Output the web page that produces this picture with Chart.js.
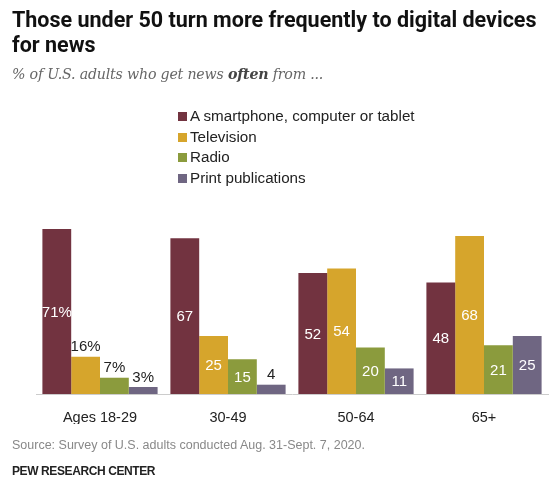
<!DOCTYPE html>
<html>
<head>
<meta charset="utf-8">
<script src="https://cdn.jsdelivr.net/npm/chart.js@4"></script>
<style>
  body { margin: 0; background: #fff; width: 556px; height: 495px; position: relative; overflow: hidden; font-family: "Liberation Sans", Arial, sans-serif; }
  #c { position: absolute; left: 0; top: 0; }
  .title { position: absolute; left: 12px; top: 7px; font-family: "Roboto", "Liberation Sans", sans-serif; font-weight: 700; font-size: 21.5px; line-height: 25px; color: #111; width: 550px; white-space: nowrap; }
  .sub { position: absolute; left: 12px; top: 66px; font-family: "DejaVu Serif", serif; font-style: italic; font-size: 14.2px; color: #666; letter-spacing: -0.2px; }
  .sub b { color: #444; }
  .legend { position: absolute; left: 178px; top: 106px; font-size: 15.2px; color: #222; }
  .legend div { height: 20.5px; line-height: 20px; }
  .legend span { display: inline-block; width: 9px; height: 9px; margin-right: 3px; }
  .src { position: absolute; left: 12px; top: 438px; font-size: 12.5px; color: #888; }
  .pew { position: absolute; left: 12px; top: 464px; font-size: 12px; font-weight: 700; color: #222; letter-spacing: -0.4px; }
</style>
</head>
<body>
<canvas id="c" width="556" height="495"></canvas>
<div class="title">Those under 50 turn more frequently to digital devices<br>for news</div>
<div class="sub">% of U.S. adults who get news <b>often</b> from ...</div>
<div class="legend" id="legend"></div>
<div class="src">Source: Survey of U.S. adults conducted Aug. 31-Sept. 7, 2020.</div>
<div class="pew">PEW RESEARCH CENTER</div>
<script>
// data
const ageGroups = ["Ages 18-29", "30-49", "50-64", "65+"];
const seriesNames = ["A smartphone, computer or tablet", "Television", "Radio", "Print publications"];
const digital = [71, 67, 52, 48];
const television = [16, 25, 54, 68];
const radio = [7, 15, 20, 21];
const print = [3, 4, 11, 25];
const colors = ["#723340", "#D6A52C", "#8B9B3D", "#6F6682"];

const allSeries = [digital, television, radio, print];

// legenda html
const legendEl = document.getElementById("legend");
seriesNames.forEach((name, i) => {
  const row = document.createElement("div");
  row.innerHTML = `<span style="background:${colors[i]}"></span>${name}`;
  legendEl.appendChild(row);
});

// label nilai di batang (grup pertama pakai "%")
const barLabels = {
  id: "barLabels",
  afterDatasetsDraw(chart) {
    const ctx = chart.ctx;
    ctx.save();
    ctx.font = "15px 'Liberation Sans', Arial, sans-serif";
    ctx.textAlign = "center";
    chart.data.datasets.forEach((ds, di) => {
      chart.getDatasetMeta(di).data.forEach((bar, i) => {
        const v = ds.data[i];
        const txt = i === 0 ? v + "%" : String(v);
        const inside = i === 0 ? v >= 50 : v >= 11;
        if (inside) {
          ctx.fillStyle = "#fff";
          ctx.textBaseline = "middle";
          ctx.fillText(txt, bar.x, (bar.y + bar.base) / 2 + 1);
        } else {
          ctx.fillStyle = "#222";
          ctx.textBaseline = "bottom";
          ctx.fillText(txt, bar.x, bar.y - 2);
        }
      });
    });
    ctx.restore();
  }
};

new Chart(document.getElementById("c"), {
  type: "bar",
  data: {
    labels: ageGroups,
    datasets: allSeries.map((d, i) => ({
      label: seriesNames[i],
      data: d,
      backgroundColor: colors[i],
      categoryPercentage: 0.9,
      barPercentage: 1.0
    }))
  },
  options: {
    responsive: false,
    animation: false,
    layout: { padding: { top: 208, left: 36, right: 8, bottom: 71 } },
    plugins: { legend: { display: false }, tooltip: { enabled: false } },
    scales: {
      x: {
        grid: { display: false },
        border: { display: true, color: "#ccc", width: 1 },
        ticks: { color: "#222", font: { size: 14.5, family: "'Liberation Sans', Arial, sans-serif" }, padding: 7 },
        afterFit: (s) => { s.height = 30; }
      },
      y: { display: false, min: 0, max: 80 }
    }
  },
  plugins: [barLabels]
});
</script>
</body>
</html>
